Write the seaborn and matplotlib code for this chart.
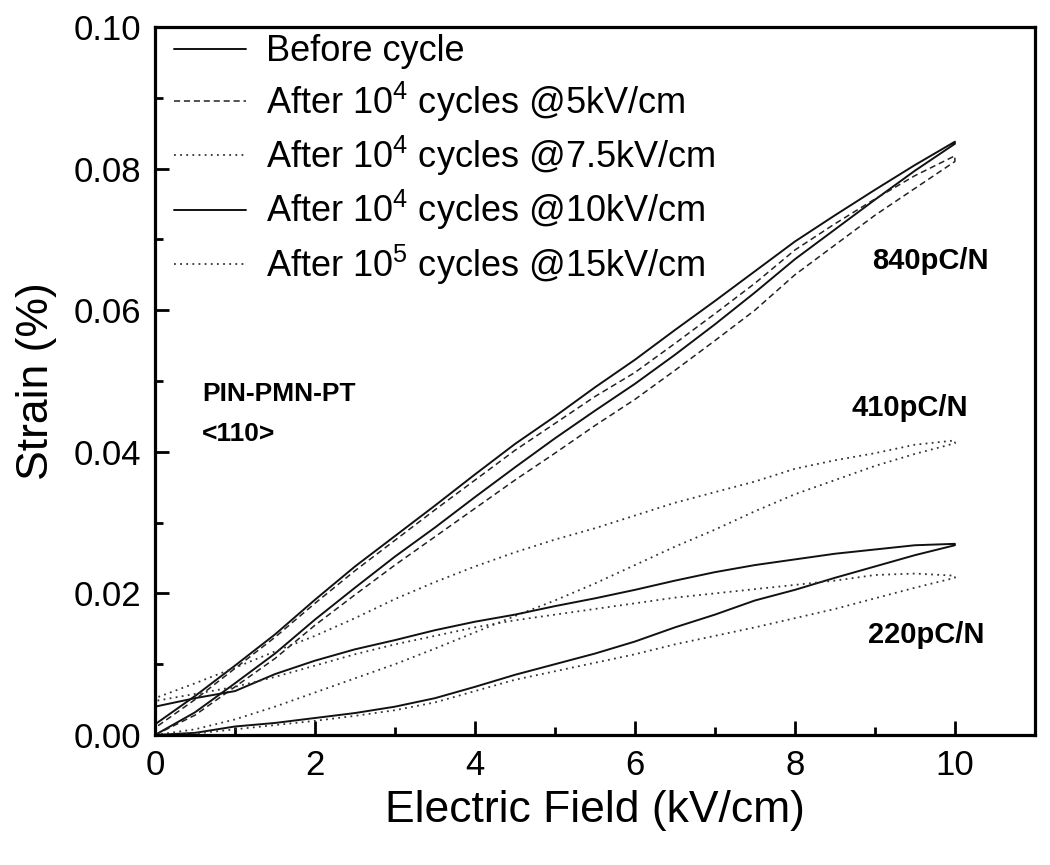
import numpy as np
import pandas as pd
import matplotlib
matplotlib.use("Agg")
import matplotlib.pyplot as plt
import seaborn as sns
from matplotlib.ticker import MultipleLocator

# ------------------------------------------------------------------
# Data (strain in %, field in kV/cm)
# each loop: rising branch 0 -> 10, falling branch 10 -> 0
# ------------------------------------------------------------------
field = [0, 0.5, 1, 1.5, 2, 2.5, 3, 3.5, 4, 4.5, 5, 5.5,
         6, 6.5, 7, 7.5, 8, 8.5, 9, 9.5, 10]

before_up = [0.0000, 0.0032, 0.0073, 0.0115, 0.0163, 0.0208, 0.0252, 0.0293, 0.0336, 0.0378, 0.0419,
             0.0458, 0.0496, 0.0537, 0.0580, 0.0625, 0.0672, 0.0714, 0.0756, 0.0797, 0.0835]
before_down = [0.0015, 0.0055, 0.0098, 0.0142, 0.0191, 0.0238, 0.0281, 0.0324, 0.0368, 0.0411, 0.0450,
               0.0491, 0.0530, 0.0572, 0.0613, 0.0655, 0.0697, 0.0734, 0.0770, 0.0805, 0.0838]

c5_up = [0.0000, 0.0028, 0.0068, 0.0108, 0.0155, 0.0198, 0.0240, 0.0280, 0.0320, 0.0360, 0.0398,
         0.0437, 0.0474, 0.0515, 0.0557, 0.0600, 0.0650, 0.0692, 0.0734, 0.0772, 0.0810]
c5_down = [0.0010, 0.0050, 0.0094, 0.0138, 0.0186, 0.0232, 0.0275, 0.0318, 0.0360, 0.0402, 0.0440,
           0.0478, 0.0512, 0.0553, 0.0595, 0.0638, 0.0685, 0.0722, 0.0757, 0.0790, 0.0818]

c75_up = [0.0000, 0.0008, 0.0022, 0.0040, 0.0060, 0.0080, 0.0100, 0.0122, 0.0145, 0.0168, 0.0190,
          0.0214, 0.0240, 0.0266, 0.0290, 0.0316, 0.0340, 0.0360, 0.0380, 0.0397, 0.0412]
c75_down = [0.0052, 0.0073, 0.0095, 0.0118, 0.0140, 0.0165, 0.0192, 0.0216, 0.0238, 0.0258, 0.0276,
            0.0292, 0.0310, 0.0328, 0.0343, 0.0358, 0.0376, 0.0388, 0.0398, 0.0410, 0.0416]

c10_up = [0.0000, 0.0003, 0.0012, 0.0017, 0.0024, 0.0031, 0.0040, 0.0052, 0.0068, 0.0085, 0.0100,
          0.0115, 0.0132, 0.0152, 0.0170, 0.0190, 0.0205, 0.0222, 0.0238, 0.0254, 0.0268]
c10_down = [0.0040, 0.0052, 0.0062, 0.0086, 0.0105, 0.0121, 0.0134, 0.0148, 0.0160, 0.0170, 0.0182,
            0.0193, 0.0205, 0.0218, 0.0230, 0.0240, 0.0248, 0.0256, 0.0262, 0.0268, 0.0270]

c15_up = [0.0000, 0.0002, 0.0008, 0.0014, 0.0020, 0.0027, 0.0035, 0.0046, 0.0062, 0.0078, 0.0090,
          0.0102, 0.0114, 0.0128, 0.0140, 0.0152, 0.0165, 0.0178, 0.0193, 0.0208, 0.0222]
c15_down = [0.0048, 0.0058, 0.0068, 0.0082, 0.0098, 0.0114, 0.0128, 0.0140, 0.0152, 0.0162, 0.0170,
            0.0178, 0.0186, 0.0194, 0.0200, 0.0206, 0.0212, 0.0218, 0.0226, 0.0228, 0.0225]

labels = ["Before cycle",
          "After 10$^4$ cycles @5kV/cm",
          "After 10$^4$ cycles @7.5kV/cm",
          "After 10$^4$ cycles @10kV/cm",
          "After 10$^5$ cycles @15kV/cm"]

sns.set_theme(style="ticks")
plt.rcParams.update({
    "font.family": ["Liberation Sans", "DejaVu Sans"],
    "mathtext.fontset": "custom",
    "mathtext.rm": "Liberation Sans",
    "mathtext.it": "Liberation Sans:italic",
    "mathtext.default": "regular",
    "text.color": "black",
    "axes.labelcolor": "black",
    "xtick.color": "black",
    "ytick.color": "black",
})


def loop_frame(up, down):
    e = field + field[::-1]
    s = up + down[::-1]
    return pd.DataFrame({"E": e, "S": s})


loops = [
    (before_up, before_down, dict(color="#111111", lw=1.4, ls="-")),
    (c5_up, c5_down, dict(color="#222222", lw=1.1, ls=(0, (4, 2.5)))),
    (c75_up, c75_down, dict(color="#333333", lw=1.3, ls=(0, (1, 2.4)))),
    (c10_up, c10_down, dict(color="#111111", lw=1.4, ls="-")),
    (c15_up, c15_down, dict(color="#333333", lw=1.3, ls=(0, (1, 2.4)))),
]

fig = plt.figure(figsize=(10.5, 8.65), dpi=100)
ax = fig.add_axes([0.1476, 0.1503, 0.838, 0.8185])

for (up, down, st), lab in zip(loops, labels):
    df = loop_frame(up, down)
    sns.lineplot(data=df, x="E", y="S", sort=False, estimator=None, ax=ax,
                 color=st["color"], linewidth=st["lw"], linestyle=st["ls"], label=lab)

ax.set_xlim(0, 11)
ax.set_ylim(0, 0.10)
ax.xaxis.set_major_locator(MultipleLocator(2))
ax.xaxis.set_minor_locator(MultipleLocator(1))
ax.yaxis.set_major_locator(MultipleLocator(0.02))
ax.yaxis.set_minor_locator(MultipleLocator(0.01))
ax.yaxis.set_major_formatter(plt.FormatStrFormatter("%.2f"))
ax.tick_params(which="both", direction="in", width=2, labelsize=25,
               top=False, right=False)
ax.tick_params(which="major", length=10, pad=10)
ax.tick_params(which="minor", length=6)
for sp in ax.spines.values():
    sp.set_linewidth(2.3)
    sp.set_color("black")

ax.set_xlabel("Electric Field (kV/cm)", fontsize=32, labelpad=6)
ax.set_ylabel("Strain (%)", fontsize=32, labelpad=12)

leg = ax.legend(loc="upper left", frameon=False, fontsize=26, handlelength=2.0,
                handletextpad=0.55, labelspacing=0.28, borderaxespad=0.0,
                bbox_to_anchor=(0.005, 1.010))

ax.text(9.69, 0.067, "840pC/N", fontsize=21, fontweight="bold", ha="center", va="center")
ax.text(9.44, 0.0462, "410pC/N", fontsize=21, fontweight="bold", ha="center", va="center")
ax.text(9.64, 0.0141, "220pC/N", fontsize=21, fontweight="bold", ha="center", va="center")
ax.text(0.59, 0.0482, "PIN-PMN-PT", fontsize=19, fontweight="bold", ha="left", va="center")
ax.text(0.59, 0.0425, "<110>", fontsize=19, fontweight="bold", ha="left", va="center")

fig.savefig("out.png", dpi=100)
